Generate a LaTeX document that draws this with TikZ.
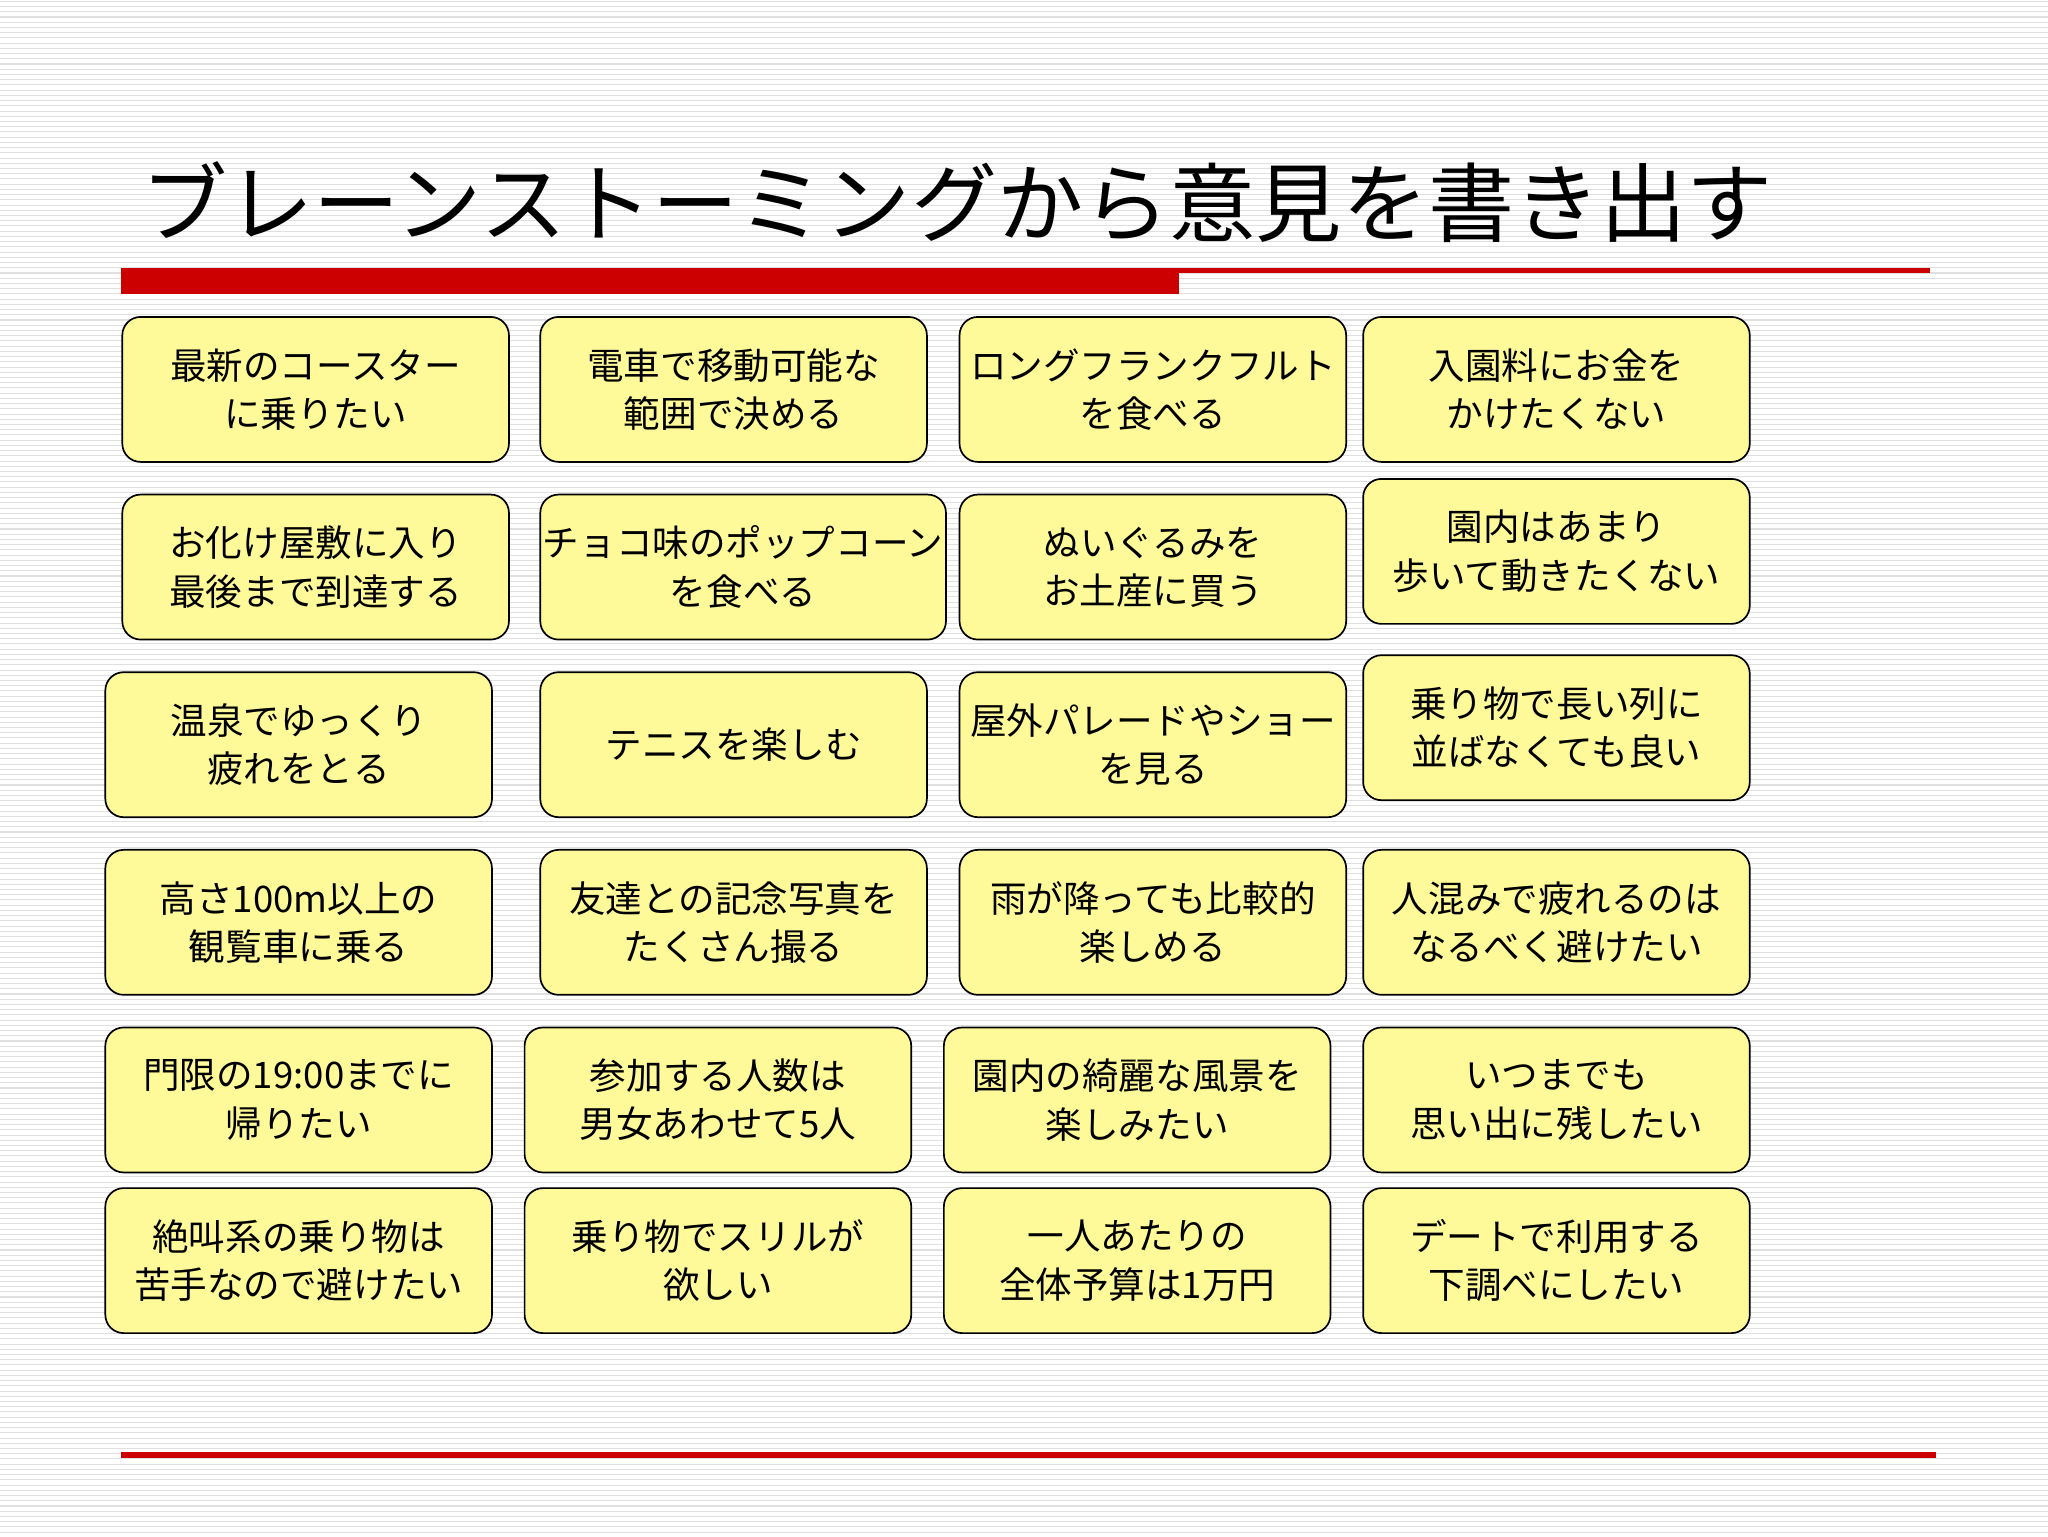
\documentclass[tikz,border=0pt]{standalone}
\usepackage{fontspec}
\setmainfont{Noto Sans CJK JP}
\begin{document}
\begin{tikzpicture}[x=1pt,y=-1pt,
  idea/.style={draw=black,line width=1.3pt,fill=yellow!40,rounded corners=14pt,
    minimum width=296pt,minimum height=111pt,align=center,font=\fontsize{28}{37}\selectfont,anchor=north west,inner sep=2pt}]
\useasboundingbox (0,0) rectangle (1568,1176);
\fill[white] (0,0) rectangle (1568,1176);
\foreach \i in {0,...,293}{\draw[black!12,line width=0.8pt] (0,\i*4+1) -- (1568,\i*4+1);}
\node[anchor=west,font=\fontsize{66}{66}\selectfont,inner sep=0] (title) at (108,155) {ブレーンストーミングから意見を書き出す};
\fill[red!80!black] (93,205) rectangle (903,225);
\fill[red!80!black] (903,205) rectangle (1478,209);
\fill[red!80!black] (93,1112) rectangle (1482,1116);
% row1
\node[idea] (a1) at (93,242) {最新のコースター\\に乗りたい};
\node[idea] (a2) at (413,242) {電車で移動可能な\\範囲で決める};
\node[idea] (a3) at (734,242) {ロングフランクフルト\\を食べる};
\node[idea] (a4) at (1043,242) {入園料にお金を\\かけたくない};
% row2
\node[idea] (b1) at (93,378) {お化け屋敷に入り\\最後まで到達する};
\node[idea] (b2) at (413,378) {チョコ味のポップコーン\\を食べる};
\node[idea] (b3) at (734,378) {ぬいぐるみを\\お土産に買う};
\node[idea] (b4) at (1043,366) {園内はあまり\\歩いて動きたくない};
% row3
\node[idea] (c1) at (80,514) {温泉でゆっくり\\疲れをとる};
\node[idea] (c2) at (413,514) {テニスを楽しむ};
\node[idea] (c3) at (734,514) {屋外パレードやショー\\を見る};
\node[idea] (c4) at (1043,501) {乗り物で長い列に\\並ばなくても良い};
% row4
\node[idea] (d1) at (80,650) {高さ100m以上の\\観覧車に乗る};
\node[idea] (d2) at (413,650) {友達との記念写真を\\たくさん撮る};
\node[idea] (d3) at (734,650) {雨が降っても比較的\\楽しめる};
\node[idea] (d4) at (1043,650) {人混みで疲れるのは\\なるべく避けたい};
% row5
\node[idea] (e1) at (80,786) {門限の19:00までに\\帰りたい};
\node[idea] (e2) at (401,786) {参加する人数は\\男女あわせて5人};
\node[idea] (e3) at (722,786) {園内の綺麗な風景を\\楽しみたい};
\node[idea] (e4) at (1043,786) {いつまでも\\思い出に残したい};
% row6
\node[idea] (f1) at (80,909) {絶叫系の乗り物は\\苦手なので避けたい};
\node[idea] (f2) at (401,909) {乗り物でスリルが\\欲しい};
\node[idea] (f3) at (722,909) {一人あたりの\\全体予算は1万円};
\node[idea] (f4) at (1043,909) {デートで利用する\\下調べにしたい};
\end{tikzpicture}
\end{document}
